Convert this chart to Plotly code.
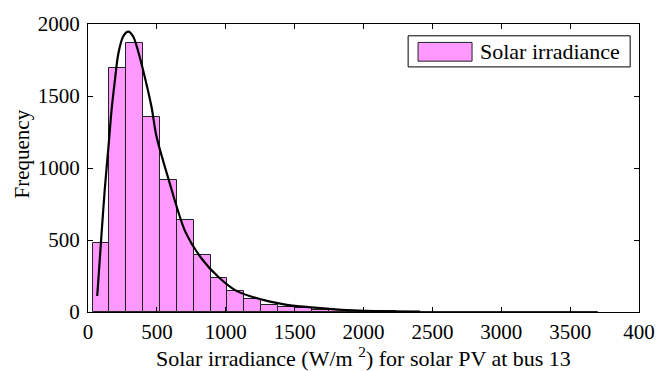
import numpy as np
import plotly.graph_objects as go

# Histogram of simulated solar irradiance samples (30 equal bins)
irr_min = 33.0
irr_max = 3705.0
n_bins = 30
counts = [481, 1697, 1866, 1356, 920, 636, 393, 239, 147, 89,
          46, 38, 25, 16, 11, 9, 5, 4, 3, 2,
          2, 1, 0, 0, 0, 0, 1, 1, 0, 1]

# Fitted density scaled to frequency
fit_x = [67, 98, 122, 147, 171, 195, 219, 255, 292, 328, 364, 413, 461,
         497, 584, 705, 827, 947, 1068, 1189, 1322, 1443, 1685, 1927,
         2169, 2411]
fit_y = [111, 538, 856, 1129, 1402, 1606, 1788, 1913, 1947, 1913, 1811,
         1629, 1425, 1220, 924, 561, 368, 243, 152, 106, 72, 50, 27, 11,
         5, 2]

x_ticks = [0, 500, 1000, 1500, 2000, 2500, 3000, 3500, 4000]
x_tick_text = ["0", "500", "1000", "1500", "2000", "2500", "3000", "3500", "400"]
y_ticks = [0, 500, 1000, 1500, 2000]

series_name = "Solar irradiance"
x_title = "Solar irradiance (W/m <sup>2</sup>) for solar PV at bus 13"
y_title = "Frequency"

edges = np.linspace(irr_min, irr_max, n_bins + 1)
centers = (edges[:-1] + edges[1:]) / 2
bin_w = edges[1] - edges[0]

FONT = "Liberation Serif, Times New Roman, serif"
FILL = "#ff99ff"

fig = go.Figure()
fig.add_trace(go.Bar(
    x=centers, y=counts, width=bin_w,
    marker=dict(color=FILL, line=dict(color="#222222", width=1)),
    name=series_name, showlegend=False,
))
fig.add_trace(go.Scatter(
    x=fit_x, y=fit_y, mode="lines",
    line=dict(color="black", width=2.2, shape="spline", smoothing=0.8),
    showlegend=False,
))

axis_common = dict(
    showgrid=False, zeroline=False, showline=True, linecolor="black",
    linewidth=1, mirror="ticks", ticks="inside", ticklen=5,
    tickcolor="black", tickfont=dict(family=FONT, size=21, color="black"),
)
fig.update_xaxes(range=[0, 4000], tickvals=x_ticks, ticktext=x_tick_text,
                 ticklabelstandoff=1, **axis_common)
fig.update_yaxes(range=[0, 2000], tickvals=y_ticks, ticklabelstandoff=3,
                 **axis_common)

# Legend drawn as a framed swatch + label
fig.add_shape(type="rect", xref="paper", yref="paper",
              x0=0.581, x1=0.984, y0=0.851, y1=0.959,
              line=dict(color="black", width=1), fillcolor="white")
fig.add_shape(type="rect", xref="paper", yref="paper",
              x0=0.599, x1=0.697, y0=0.871, y1=0.936,
              line=dict(color="#222222", width=1), fillcolor=FILL)
fig.add_annotation(xref="paper", yref="paper", x=0.707, y=0.904,
                   xanchor="left", yanchor="middle", showarrow=False,
                   text=series_name,
                   font=dict(family=FONT, size=22, color="black"))

# Axis titles
fig.add_annotation(xref="paper", yref="paper", x=0.5, y=-0.155,
                   xanchor="center", yanchor="middle", showarrow=False,
                   text=x_title,
                   font=dict(family=FONT, size=22, color="black"))
fig.add_annotation(xref="paper", yref="paper", x=-0.12, y=0.55,
                   xanchor="center", yanchor="middle", showarrow=False,
                   text=y_title, textangle=-90,
                   font=dict(family=FONT, size=21, color="black"))

fig.update_layout(
    width=667, height=371,
    margin=dict(l=88, r=28, t=19, b=59),
    paper_bgcolor="white", plot_bgcolor="white",
    bargap=0, showlegend=False,
)

fig.write_html("out.html")
